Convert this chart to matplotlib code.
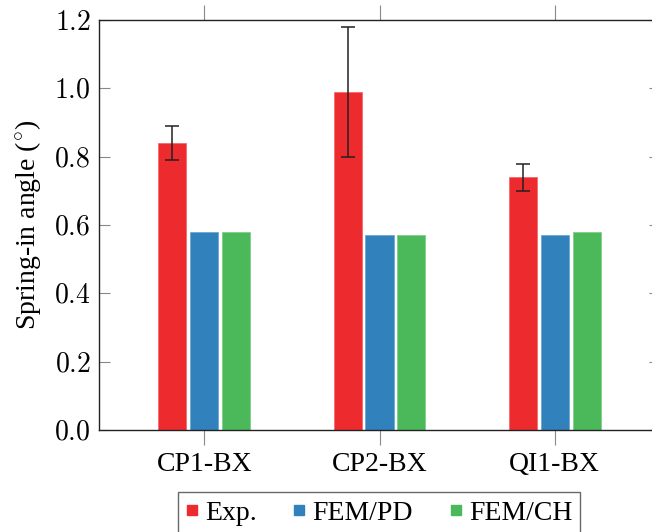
import matplotlib
matplotlib.use("Agg")
import matplotlib.pyplot as plt
from matplotlib.lines import Line2D
from matplotlib.ticker import FuncFormatter
import numpy as np

categories = ["CP1-BX", "CP2-BX", "QI1-BX"]
series_names = ["Exp.", "FEM/PD", "FEM/CH"]
exp_vals = [0.84, 0.99, 0.74]
exp_err_low = [0.05, 0.19, 0.04]
exp_err_high = [0.05, 0.19, 0.04]
fem_pd_vals = [0.58, 0.57, 0.57]
fem_ch_vals = [0.58, 0.57, 0.58]
y_ticks = [0.0, 0.2, 0.4, 0.6, 0.8, 1.0, 1.2]

colors = ["#ED2A2D", "#3181BD", "#4BB95A"]

plt.rcParams["mathtext.fontset"] = "cm"
plt.rcParams["font.family"] = ["Liberation Serif", "DejaVu Serif"]

W, H = 652, 532
fig = plt.figure(figsize=(W / 100, H / 100), dpi=100)
left, right, top, bottom = 99, 660, 20, 430
ax = fig.add_axes([left / W, 1 - bottom / H, (right - left) / W, (bottom - top) / H])

x = np.arange(len(categories))
bw = 0.16
off = 0.182
ax.bar(x - off, exp_vals, bw, color=colors[0], edgecolor="#F46A6A", linewidth=0.6, zorder=2)
ax.bar(x, fem_pd_vals, bw, color=colors[1], edgecolor="#6FA6D2", linewidth=0.6, zorder=2)
ax.bar(x + off, fem_ch_vals, bw, color=colors[2], edgecolor="#80CF8A", linewidth=0.6, zorder=2)
ax.errorbar(x - off, exp_vals, yerr=[exp_err_low, exp_err_high], fmt="none",
            ecolor="#222222", elinewidth=1.1, capsize=5, capthick=1.1, zorder=3)

ax.set_xlim(-0.6, 2.6)
ax.set_ylim(0, 1.2)
ax.set_yticks(y_ticks)
ax.yaxis.set_major_formatter(FuncFormatter(lambda v, p: f"${v:.1f}$"))
ax.set_xticks(x)
ax.set_xticklabels(categories, fontsize=20)
ax.tick_params(axis="y", which="both", direction="in", length=8, width=0.8,
               color="#888888", labelsize=20, pad=6, right=True)
ax.tick_params(axis="x", which="both", direction="out", length=11, width=0.8,
               color="#888888", labelsize=20, pad=5, top=True)
for s in ax.spines.values():
    s.set_color("#222222")
    s.set_linewidth(1.0)

ax.set_ylabel("Spring-in angle ($^{\\circ}$)", fontsize=20, labelpad=8)

handles = [Line2D([], [], marker="s", linestyle="none", markersize=7,
                  markerfacecolor=c, markeredgecolor=c) for c in colors]
leg = fig.legend(handles, series_names, loc="upper center",
                 bbox_to_anchor=(379 / W, 1 - 492 / H), ncol=3, fontsize=20,
                 frameon=True, fancybox=False, handlelength=0.45, handletextpad=0.25,
                 columnspacing=1.3, borderpad=0.3, borderaxespad=0)
leg.get_frame().set_edgecolor("#444444")
leg.get_frame().set_linewidth(1.0)

fig.savefig("out.png", dpi=100)
